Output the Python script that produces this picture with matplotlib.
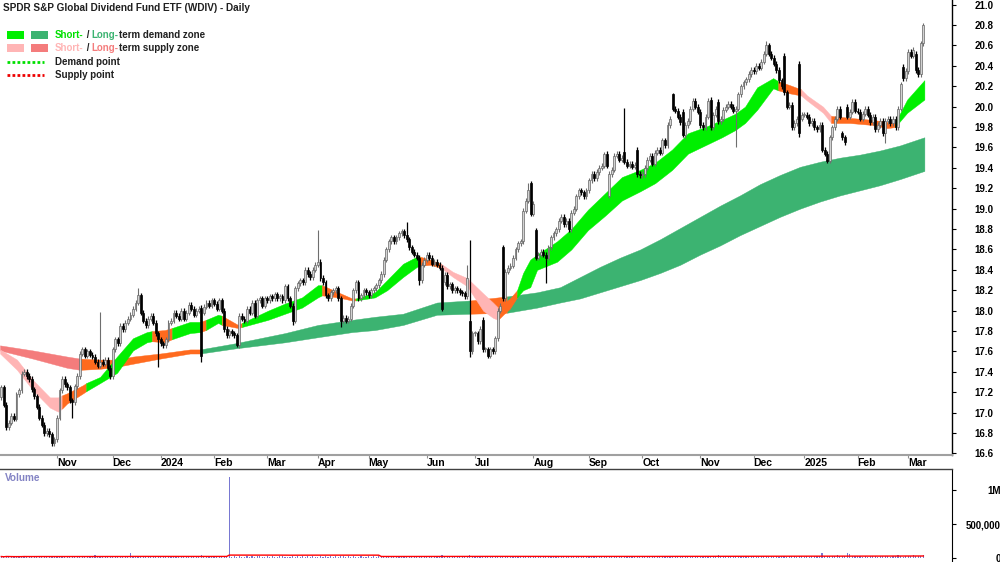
import matplotlib
matplotlib.use('Agg')
import matplotlib.pyplot as plt
from matplotlib.patches import Rectangle
import numpy as np
import pandas as pd

plt.rcParams['font.family'] = ['Liberation Sans', 'DejaVu Sans']

# ---------------- data ----------------
asx_holidays = ['2023-12-25', '2023-12-26', '2024-01-01', '2024-01-26', '2024-03-29',
                '2024-04-01', '2024-04-25', '2024-06-10', '2024-12-25', '2024-12-26',
                '2025-01-01', '2025-01-27']
dates = pd.bdate_range('2023-10-02', '2025-03-11', freq='C', holidays=asx_holidays)

# daily closes
close_oct23 = [17.25, 17.08, 16.86, 16.90, 16.97, 16.94, 17.18, 17.22, 17.38, 17.40, 17.36,
               17.33, 17.23, 17.16, 17.06, 16.95, 16.88, 16.80, 16.82, 16.79, 16.70, 16.74]
close_nov23 = [16.95, 17.22, 17.33, 17.28, 17.25, 17.12, 17.10, 17.26, 17.36, 17.58, 17.62,
               17.56, 17.60, 17.57, 17.55, 17.50, 17.46, 17.50, 17.48, 17.52, 17.44, 17.36]
close_dec23 = [17.62, 17.72, 17.68, 17.85, 17.82, 17.88, 17.92, 17.96, 18.02, 18.08, 18.15,
               17.98, 17.90, 17.86, 17.92, 17.95, 17.88, 17.78, 17.72]
close_jan24 = [17.68, 17.66, 17.72, 17.88, 17.90, 17.98, 17.95, 17.92, 18.00, 17.92, 17.98,
               18.06, 18.02, 17.96, 18.00, 18.02, 17.56, 18.04, 18.08, 18.05, 18.10]
close_feb24 = [18.07, 18.02, 18.10, 18.00, 17.82, 17.76, 17.80, 17.78, 17.76, 17.66, 17.95,
               17.92, 17.90, 18.02, 17.98, 18.08, 17.95, 18.10, 18.12, 18.05, 18.12]
close_mar24 = [18.10, 18.14, 18.12, 18.16, 18.12, 18.14, 18.10, 18.24, 18.12, 18.05, 17.90,
               18.22, 18.27, 18.30, 18.28, 18.40, 18.36, 18.33, 18.40, 18.45]
close_apr24 = [18.48, 18.32, 18.28, 18.15, 18.12, 18.18, 18.20, 18.22, 18.12, 17.90, 17.93,
               17.90, 17.92, 18.05, 18.20, 18.28, 18.12, 18.15, 18.20, 18.18]
close_may24 = [18.15, 18.20, 18.22, 18.25, 18.30, 18.36, 18.50, 18.60, 18.68, 18.72, 18.68,
               18.72, 18.76, 18.78, 18.74, 18.70, 18.62, 18.58, 18.55, 18.52, 18.30, 18.45, 18.50]
close_jun24 = [18.55, 18.52, 18.46, 18.48, 18.45, 18.42, 18.02, 18.35, 18.24, 18.26, 18.20,
               18.22, 18.20, 18.18, 18.17, 18.14, 18.32, 17.60, 17.78]
close_jul24 = [17.78, 17.70, 17.82, 17.62, 17.62, 17.56, 17.62, 17.60, 17.73, 18.00, 18.05,
               18.12, 18.38, 18.42, 18.44, 18.52, 18.60, 18.66, 18.68, 18.98, 19.08, 19.18, 18.95]
close_aug24 = [19.05, 18.52, 18.55, 18.58, 18.55, 18.52, 18.62, 18.72, 18.76, 18.80, 18.88,
               18.92, 18.85, 18.88, 18.80, 18.96, 19.00, 19.12, 19.18, 19.16, 19.12, 19.18]
close_sep24 = [19.28, 19.34, 19.30, 19.36, 19.40, 19.42, 19.54, 19.42, 19.34, 19.38, 19.52,
               19.54, 19.48, 19.50, 19.46, 19.42, 19.44, 19.41, 19.43, 19.34, 19.33]
close_oct24 = [19.34, 19.40, 19.48, 19.52, 19.44, 19.55, 19.58, 19.55, 19.67, 19.62, 19.82,
               19.88, 19.98, 19.96, 19.90, 19.85, 19.72, 19.82, 19.86, 19.98, 20.06, 20.00, 19.95]
close_nov24 = [19.82, 19.80, 19.90, 20.06, 19.80, 19.92, 19.98, 19.86, 19.88, 19.97, 20.00,
               20.03, 20.00, 19.96, 19.98, 20.12, 20.20, 20.24, 20.27, 20.32, 20.36]
close_dec24 = [20.35, 20.40, 20.38, 20.44, 20.52, 20.60, 20.52, 20.48, 20.42, 20.36, 20.26,
               20.20, 20.14, 20.00, 20.02, 19.80, 19.84, 19.88, 19.74, 19.92]
close_jan25 = [19.92, 19.90, 19.84, 19.86, 19.80, 19.78, 19.82, 19.58, 19.54, 19.47, 19.70,
               19.80, 19.88, 19.98, 19.90, 19.70, 19.65, 19.90, 19.95, 20.05, 19.96]
close_feb25 = [19.95, 19.88, 19.93, 19.98, 19.92, 19.85, 19.90, 19.78, 19.82, 19.86, 19.74,
               19.86, 19.88, 19.84, 19.88, 19.80, 19.98, 20.22, 20.28, 20.35]
close_mar25 = [20.54, 20.50, 20.56, 20.36, 20.32, 20.62, 20.80]

# opens that differ from the previous close (gaps), by trading-day index
open_gaps = {0: 17.15, 79: 18.03, 80: 17.98, 174: 18.42, 175: 18.28, 185: 17.90, 190: 17.91,
             198: 18.62, 209: 19.25, 211: 18.79, 240: 19.12, 246: 19.56, 251: 19.58,
             265: 20.12, 269: 19.95, 280: 20.07, 283: 20.05, 309: 20.50, 312: 20.02,
             315: 20.42, 316: 19.88, 332: 19.74, 334: 20.00, 356: 20.39, 361: 20.52}
# long wicks
high_marks = {39: 17.99, 54: 18.22, 125: 18.79, 160: 18.87, 184: 18.45, 185: 18.69,
              208: 19.25, 238: 19.56, 246: 19.99, 265: 20.13, 302: 20.64}
low_marks = {20: 16.67, 28: 16.95, 62: 17.45, 79: 17.50, 93: 17.64, 115: 17.86, 134: 17.84,
             165: 18.25, 174: 18.00, 185: 17.55, 192: 17.54, 215: 18.27, 240: 19.10,
             269: 19.70, 290: 19.60, 312: 19.77, 315: 19.70, 326: 19.45, 349: 19.64}

# volume, thousands of units
vol_oct23 = [22, 15, 30, 18, 12, 25, 20, 14, 28, 35, 16, 22, 19, 27, 31, 12, 24, 18, 33, 26, 14, 21]
vol_nov23 = [17, 29, 23, 12, 35, 20, 18, 26, 14, 31, 22, 19, 27, 16, 24, 38, 13, 21, 30, 17, 25, 19]
vol_dec23 = [28, 16, 25, 22, 30, 19, 25, 70, 31, 20, 27, 18, 12, 24, 16, 10, 21, 15, 26]
vol_jan24 = [19, 24, 33, 15, 27, 20, 18, 29, 14, 22, 36, 17, 25, 21, 13, 28, 40, 23, 16, 30, 19]
vol_feb24 = [26, 18, 22, 31, 15, 24, 1190, 20, 27, 17, 33, 21, 14, 25, 19, 28, 16, 23, 30, 18, 22]
vol_mar24 = [24, 17, 29, 21, 13, 26, 32, 18, 22, 15, 27, 20, 35, 16, 23, 19, 28, 14, 25, 21]
vol_apr24 = [18, 27, 22, 31, 16, 24, 20, 29, 13, 26, 34, 19, 23, 17, 28, 21, 15, 30, 22, 18]
vol_may24 = [25, 19, 32, 16, 23, 28, 14, 21, 36, 18, 24, 27, 15, 30, 20, 17, 26, 22, 33, 19, 29, 16, 24]
vol_jun24 = [21, 28, 17, 25, 32, 19, 40, 23, 16, 27, 20, 35, 18, 24, 29, 15, 26, 45, 22]
vol_jul24 = [19, 27, 23, 31, 16, 25, 20, 34, 18, 22, 29, 15, 26, 21, 33, 17, 24, 28, 14, 30, 22, 19, 27]
vol_aug24 = [36, 24, 18, 29, 21, 15, 27, 32, 19, 23, 17, 26, 30, 14, 22, 28, 20, 25, 16, 31, 23, 19]
vol_sep24 = [24, 18, 30, 22, 16, 27, 35, 20, 25, 19, 28, 15, 23, 31, 17, 26, 21, 33, 18, 24, 29]
vol_oct24 = [20, 27, 16, 24, 31, 19, 23, 28, 15, 26, 22, 34, 18, 25, 21, 30, 17, 23, 27, 19, 32, 24, 20]
vol_nov24 = [26, 19, 31, 22, 17, 28, 24, 38, 20, 25, 16, 29, 23, 21, 33, 18, 26, 22, 30, 19, 24]
vol_dec24 = [27, 21, 18, 30, 24, 35, 19, 26, 22, 28, 17, 32, 23, 20, 29, 25, 31, 18, 27, 24]
vol_jan25 = [22, 28, 19, 33, 26, 24, 27, 80, 31, 26, 30, 23, 29, 45, 25, 30, 28, 70, 55, 24, 32]
vol_feb25 = [25, 30, 22, 27, 19, 33, 24, 28, 21, 35, 26, 23, 31, 20, 29, 25, 38, 27, 22, 30]
vol_mar25 = [33, 26, 40, 29, 35, 31, 45]

# short-term zone: day index, upper edge, lower edge, state of the stretch that follows
short_x = [-0.5, 6.2, 12.5, 19.2, 22.4, 24.0, 26.0, 32.3, 33.5, 39.0,
           45.7, 52.0, 57.5, 59.5, 64.6, 67.4, 74.5, 78.5, 80.8, 85.6,
           87.1, 93.5, 95.0, 105.3, 112.0, 118.7, 125.0, 126.6, 133.0, 138.5,
           140.0, 147.5, 152.3, 158.6, 164.1, 165.3, 169.3, 173.6, 178.3, 183.9,
           190.2, 194.1, 196.1, 198.1, 200.8, 203.6, 206.0, 208.8, 211.5, 219.4,
           225.0, 231.6, 238.3, 245.0, 252.2, 258.1, 264.8, 271.1, 277.8, 284.5,
           289.7, 293.6, 298.4, 304.7, 306.7, 311.4, 315.7, 318.1, 324.4, 327.6,
           335.0, 344.2, 349.7, 352.8, 357.6, 364.4]
short_top = [17.62, 17.52, 17.32, 17.15, 17.15, 17.17, 17.19, 17.27, 17.29, 17.35,
             17.55, 17.73, 17.79, 17.80, 17.81, 17.83, 17.89, 17.89, 17.91, 17.96,
             17.95, 17.86, 17.88, 18.00, 18.07, 18.13, 18.25, 18.25, 18.18, 18.12,
             18.12, 18.18, 18.30, 18.46, 18.53, 18.53, 18.50, 18.46, 18.38, 18.32,
             18.17, 18.08, 18.03, 18.07, 18.12, 18.20, 18.37, 18.50, 18.55, 18.68,
             18.80, 18.99, 19.15, 19.31, 19.38, 19.45, 19.58, 19.74, 19.80, 19.87,
             19.93, 20.00, 20.19, 20.28, 20.25, 20.21, 20.17, 20.11, 20.00, 19.91,
             19.89, 19.87, 19.85, 19.84, 20.07, 20.26]
short_bot = [17.58, 17.42, 17.22, 17.05, 17.01, 17.04, 17.09, 17.19, 17.21, 17.29,
             17.39, 17.61, 17.69, 17.70, 17.69, 17.72, 17.78, 17.79, 17.81, 17.88,
             17.86, 17.83, 17.84, 17.91, 17.97, 18.03, 18.13, 18.15, 18.13, 18.10,
             18.10, 18.13, 18.20, 18.33, 18.43, 18.44, 18.45, 18.42, 18.33, 18.24,
             18.00, 17.93, 17.91, 17.96, 18.02, 18.13, 18.20, 18.23, 18.40, 18.48,
             18.60, 18.79, 18.93, 19.08, 19.17, 19.25, 19.38, 19.54, 19.62, 19.70,
             19.77, 19.84, 19.97, 20.18, 20.16, 20.13, 20.11, 20.06, 19.94, 19.84,
             19.84, 19.82, 19.79, 19.80, 19.94, 20.07]
short_state = ['sup', 'sup', 'sup', 'sup', 'sup', 'neu', 'neu', 'neu', 'dem', 'dem',
               'dem', 'dem', 'dem', 'neu', 'neu', 'dem', 'dem', 'neu', 'dem', 'dem',
               'neu', 'neu', 'dem', 'dem', 'dem', 'dem', 'dem', 'neu', 'neu', 'neu',
               'dem', 'dem', 'dem', 'dem', 'dem', 'neu', 'neu', 'sup', 'sup', 'sup',
               'sup', 'sup', 'neu', 'neu', 'neu', 'dem', 'dem', 'dem', 'dem', 'dem',
               'dem', 'dem', 'dem', 'dem', 'dem', 'dem', 'dem', 'dem', 'dem', 'dem',
               'dem', 'dem', 'dem', 'dem', 'neu', 'neu', 'sup', 'sup', 'sup', 'neu',
               'neu', 'neu', 'neu', 'dem', 'dem', '']

# long-term zone
long_x = [-0.5, 12.5, 26.0, 31.1, 39.0, 45.7, 52.0, 62.7, 74.5, 78.5,
          92.3, 112.0, 125.0, 138.5, 147.5, 158.6, 172.0, 185.1, 199.7, 211.5,
          220.6, 228.5, 236.4, 244.3, 252.2, 260.1, 268.0, 275.9, 283.8, 291.6,
          299.5, 307.4, 315.3, 323.2, 331.1, 339.0, 346.9, 354.8, 364.4]
long_top = [17.66, 17.61, 17.55, 17.53, 17.52, 17.52, 17.55, 17.58, 17.62, 17.62,
            17.68, 17.78, 17.86, 17.91, 17.94, 17.97, 18.08, 18.10, 18.14, 18.18,
            18.23, 18.33, 18.43, 18.52, 18.60, 18.70, 18.81, 18.92, 19.03, 19.13,
            19.24, 19.33, 19.41, 19.46, 19.50, 19.53, 19.57, 19.62, 19.70]
long_bot = [17.61, 17.53, 17.44, 17.42, 17.43, 17.45, 17.48, 17.53, 17.58, 17.58,
            17.63, 17.69, 17.74, 17.79, 17.81, 17.86, 17.96, 17.97, 17.98, 18.03,
            18.08, 18.12, 18.18, 18.24, 18.30, 18.37, 18.45, 18.55, 18.64, 18.74,
            18.83, 18.92, 19.00, 19.07, 19.13, 19.18, 19.23, 19.29, 19.37]
long_state = ['sup', 'sup', 'sup', 'neu', 'neu', 'neu', 'neu', 'neu', 'neu', 'dem',
              'dem', 'dem', 'dem', 'dem', 'dem', 'dem', 'dem', 'neu', 'dem', 'dem',
              'dem', 'dem', 'dem', 'dem', 'dem', 'dem', 'dem', 'dem', 'dem', 'dem',
              'dem', 'dem', 'dem', 'dem', 'dem', 'dem', 'dem', 'dem', '']

# ---------------- derived ----------------
closes = np.array(close_oct23 + close_nov23 + close_dec23 + close_jan24 + close_feb24 +
                  close_mar24 + close_apr24 + close_may24 + close_jun24 + close_jul24 +
                  close_aug24 + close_sep24 + close_oct24 + close_nov24 + close_dec24 +
                  close_jan25 + close_feb25 + close_mar25)
volume = np.array(vol_oct23 + vol_nov23 + vol_dec23 + vol_jan24 + vol_feb24 + vol_mar24 +
                  vol_apr24 + vol_may24 + vol_jun24 + vol_jul24 + vol_aug24 + vol_sep24 +
                  vol_oct24 + vol_nov24 + vol_dec24 + vol_jan25 + vol_feb25 + vol_mar25) * 1000.0
n = len(closes)
days = np.arange(n)

opens = np.r_[closes[0], closes[:-1]]
for k, v in open_gaps.items():
    opens[k] = v
highs = np.maximum(opens, closes) + 0.025
lows = np.minimum(opens, closes) - 0.025
for k, v in high_marks.items():
    highs[k] = v
for k, v in low_marks.items():
    lows[k] = v
vol_avg = pd.Series(volume).rolling(60, min_periods=1).mean()

# ---------------- figure ----------------
fig = plt.figure(figsize=(10, 5.62), dpi=100)
ax = fig.add_axes([0, 1 - 455 / 562, 0.952, 455 / 562])
axv = fig.add_axes([0, 1 - 561 / 562, 0.952, 92 / 562])

short_cols = {'dem': '#00ef00', 'sup': '#ffb5b5', 'neu': '#ff6a1e'}
long_cols = {'dem': '#3cb371', 'sup': '#f47c7c', 'neu': '#ff6a1e'}


def draw_zone(xs, top, bot, states, cols, z):
    a = 0
    last = len(xs) - 1
    for b in range(1, last + 1):
        if b == last or states[b] != states[a]:
            ax.fill_between(xs[a:b + 1], bot[a:b + 1], top[a:b + 1], color=cols[states[a]],
                            lw=0.3, edgecolor=cols[states[a]], zorder=z)
            a = b


draw_zone(long_x, long_top, long_bot, long_state, long_cols, 1)
draw_zone(short_x, short_top, short_bot, short_state, short_cols, 2)

# candles
up = closes >= opens
body_lo = np.minimum(opens, closes)
body_h = np.maximum(np.abs(closes - opens), 0.01)
ax.vlines(days[up], lows[up], highs[up], color='#6e6e6e', lw=0.8, zorder=3)
ax.vlines(days[~up], lows[~up], highs[~up], color='black', lw=0.9, zorder=3)
ax.bar(days[up], body_h[up], bottom=body_lo[up], width=0.75, color='#d2d2d2',
       edgecolor='#666666', lw=0.5, zorder=4)
ax.bar(days[~up], body_h[~up], bottom=body_lo[~up], width=0.75, color='black',
       edgecolor='black', lw=0.5, zorder=4)

ax.set_xlim(-0.5, 375.3)
ax.set_ylim(16.585, 21.046)
ax.set_yticks(np.round(np.arange(16.6, 21.01, 0.2), 1))
ax.yaxis.tick_right()
ax.yaxis.set_major_formatter(matplotlib.ticker.FormatStrFormatter('%.1f'))
ax.tick_params(axis='y', direction='out', length=3, width=0.8, pad=13, labelsize=7)
for t in ax.get_yticklabels():
    t.set_fontweight('bold')

# month ticks
month_start = [i for i in range(1, n) if dates[i].month != dates[i - 1].month]
month_lab = [str(dates[i].year) if dates[i].month == 1 else dates[i].strftime('%b') for i in month_start]
ax.set_xticks(month_start)
ax.set_xticklabels(month_lab, fontsize=7.5, fontweight='bold', ha='left')
ax.tick_params(axis='x', direction='out', length=2, width=0.8, color='#909090', pad=0.5)

for s in ['left', 'top']:
    ax.spines[s].set_visible(False)
ax.spines['right'].set_color('black')
ax.spines['right'].set_linewidth(1)
ax.spines['bottom'].set_color('#a0a0a0')
ax.spines['bottom'].set_linewidth(1.5)

# volume panel
axv.bar(days, volume, width=0.45, color='#7878d2', zorder=2)
axv.plot(days, vol_avg, color='#ff0000', lw=1, zorder=3)
axv.set_xlim(-0.5, 375.3)
axv.set_ylim(-44000, 1309000)
axv.set_xticks([])
axv.yaxis.tick_right()
axv.set_yticks([0, 500000, 1000000])
axv.set_yticklabels(['0', '500,000', '1M'], fontsize=7, fontweight='bold', ha='right')
axv.tick_params(axis='y', direction='out', length=3, width=0.8, pad=32)
for s in ['left', 'bottom']:
    axv.spines[s].set_visible(False)
axv.spines['top'].set_color('#404040')
axv.spines['top'].set_linewidth(1)
axv.spines['right'].set_color('black')

# overlay for title / legend, in pixel units
ov = fig.add_axes([0, 0, 1, 1], zorder=10)
ov.set_xlim(0, 1000)
ov.set_ylim(562, 0)
ov.axis('off')
ov.patch.set_alpha(0)

ov.text(3, 8, 'SPDR S&P Global Dividend Fund ETF (WDIV) - Daily', fontsize=7.2,
        fontweight='bold', color='#202020', va='center', ha='left')
ov.text(5, 478, 'Volume', fontsize=7.2, fontweight='bold', color='#8383c4', va='center')

ov.add_patch(Rectangle((7, 31), 17, 8, color=short_cols['dem'], lw=0))
ov.add_patch(Rectangle((31, 31), 17, 8, color=long_cols['dem'], lw=0))
ov.add_patch(Rectangle((7, 44), 17, 8, color=short_cols['sup'], lw=0))
ov.add_patch(Rectangle((31, 44), 17, 8, color=long_cols['sup'], lw=0))
ov.plot([7, 44], [62, 62], color='#00e000', lw=2, ls=(0, (1, 0.8)))
ov.plot([7, 44], [75, 75], color='#ee0000', lw=2, ls=(0, (1, 0.8)))


def colour_line(x, y, parts):
    prev = None
    for txt, col in parts:
        if prev is None:
            prev = ov.text(x, y, txt, color=col, fontsize=7, fontweight='bold',
                           va='center', ha='left')
        else:
            prev = ov.annotate(txt, xy=(1, 0), xycoords=prev, va='bottom', ha='left',
                               color=col, fontsize=7, fontweight='bold')


colour_line(55, 35, [('Short-', '#00e000'), (' / ', '#202020'), ('Long-', '#3cb371'),
                     ('term demand zone', '#202020')])
colour_line(55, 48, [('Short-', '#ffb5b5'), (' / ', '#202020'), ('Long-', '#f47c7c'),
                     ('term supply zone', '#202020')])
ov.text(55, 62, 'Demand point', fontsize=7, fontweight='bold', color='#202020', va='center')
ov.text(55, 75, 'Supply point', fontsize=7, fontweight='bold', color='#202020', va='center')

fig.savefig('out.png', dpi=100)
